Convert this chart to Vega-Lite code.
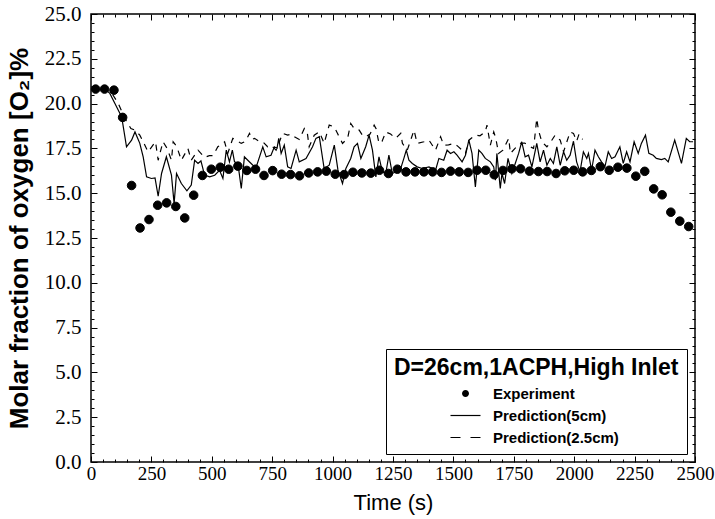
{
  "$schema": "https://vega.github.io/schema/vega-lite/v6.json",
  "width": 604,
  "height": 448,
  "autosize": {"type": "none"},
  "padding": {"left": 91, "top": 14, "right": 20, "bottom": 57},
  "background": "white",
  "config": {
    "view": {"stroke": "black", "strokeWidth": 1.5},
    "axis": {"domain": false, "grid": false, "labelFont": "Liberation Serif", "labelFontSize": 20, "labelColor": "black", "tickColor": "black", "tickWidth": 1, "titleColor": "black", "labelOverlap": false, "labelFlush": false}
  },
  "datasets": {
    "experiment": [
      {"time":19,"o2":20.81,"series":"Experiment"},{"time":56,"o2":20.81,"series":"Experiment"},{"time":95,"o2":20.75,"series":"Experiment"},{"time":131,"o2":19.23,"series":"Experiment"},{"time":168,"o2":15.43,"series":"Experiment"},{"time":203,"o2":13.06,"series":"Experiment"},{"time":240,"o2":13.53,"series":"Experiment"},{"time":276,"o2":14.33,"series":"Experiment"},{"time":313,"o2":14.46,"series":"Experiment"},{"time":351,"o2":14.26,"series":"Experiment"},{"time":388,"o2":13.62,"series":"Experiment"},{"time":425,"o2":14.89,"series":"Experiment"},{"time":461,"o2":15.99,"series":"Experiment"},{"time":498,"o2":16.34,"series":"Experiment"},{"time":535,"o2":16.45,"series":"Experiment"},{"time":570,"o2":16.34,"series":"Experiment"},{"time":608,"o2":16.51,"series":"Experiment"},{"time":645,"o2":16.27,"series":"Experiment"},{"time":681,"o2":16.34,"series":"Experiment"},{"time":716,"o2":15.99,"series":"Experiment"},{"time":752,"o2":16.26,"series":"Experiment"},{"time":789,"o2":16.06,"series":"Experiment"},{"time":826,"o2":16.04,"series":"Experiment"},{"time":863,"o2":15.97,"series":"Experiment"},{"time":901,"o2":16.13,"series":"Experiment"},{"time":938,"o2":16.19,"series":"Experiment"},{"time":974,"o2":16.23,"series":"Experiment"},{"time":1011,"o2":16.06,"series":"Experiment"},{"time":1048,"o2":16.04,"series":"Experiment"},{"time":1084,"o2":16.17,"series":"Experiment"},{"time":1121,"o2":16.13,"series":"Experiment"},{"time":1158,"o2":16.12,"series":"Experiment"},{"time":1194,"o2":16.28,"series":"Experiment"},{"time":1231,"o2":16.1,"series":"Experiment"},{"time":1268,"o2":16.34,"series":"Experiment"},{"time":1304,"o2":16.19,"series":"Experiment"},{"time":1341,"o2":16.19,"series":"Experiment"},{"time":1378,"o2":16.19,"series":"Experiment"},{"time":1414,"o2":16.19,"series":"Experiment"},{"time":1451,"o2":16.16,"series":"Experiment"},{"time":1488,"o2":16.23,"series":"Experiment"},{"time":1524,"o2":16.19,"series":"Experiment"},{"time":1561,"o2":16.16,"series":"Experiment"},{"time":1598,"o2":16.28,"series":"Experiment"},{"time":1634,"o2":16.28,"series":"Experiment"},{"time":1669,"o2":16.03,"series":"Experiment"},{"time":1705,"o2":16.27,"series":"Experiment"},{"time":1742,"o2":16.36,"series":"Experiment"},{"time":1778,"o2":16.36,"series":"Experiment"},{"time":1815,"o2":16.23,"series":"Experiment"},{"time":1852,"o2":16.21,"series":"Experiment"},{"time":1888,"o2":16.21,"series":"Experiment"},{"time":1925,"o2":16.1,"series":"Experiment"},{"time":1961,"o2":16.25,"series":"Experiment"},{"time":1998,"o2":16.28,"series":"Experiment"},{"time":2035,"o2":16.19,"series":"Experiment"},{"time":2071,"o2":16.27,"series":"Experiment"},{"time":2108,"o2":16.48,"series":"Experiment"},{"time":2145,"o2":16.28,"series":"Experiment"},{"time":2181,"o2":16.45,"series":"Experiment"},{"time":2218,"o2":16.4,"series":"Experiment"},{"time":2255,"o2":15.95,"series":"Experiment"},{"time":2292,"o2":16.22,"series":"Experiment"},{"time":2329,"o2":15.24,"series":"Experiment"},{"time":2364,"o2":14.91,"series":"Experiment"},{"time":2400,"o2":13.94,"series":"Experiment"},{"time":2437,"o2":13.44,"series":"Experiment"},{"time":2474,"o2":13.14,"series":"Experiment"}
    ],
    "pred5": [
      {"time":0,"o2":20.8},{"time":58,"o2":20.8},{"time":78,"o2":20.57},{"time":99,"o2":20.01},{"time":127,"o2":19.26},{"time":147,"o2":17.59},{"time":168,"o2":17.96},{"time":182,"o2":18.42},{"time":202,"o2":17.78},{"time":216,"o2":17.03},{"time":230,"o2":15.91},{"time":250,"o2":15.82},{"time":265,"o2":15.85},{"time":278,"o2":14.83},{"time":292,"o2":16.1},{"time":312,"o2":17.03},{"time":333,"o2":16.01},{"time":344,"o2":14.42},{"time":354,"o2":16.1},{"time":374,"o2":15.54},{"time":397,"o2":15.13},{"time":415,"o2":15.45},{"time":429,"o2":16.84},{"time":443,"o2":16.66},{"time":455,"o2":16.8},{"time":470,"o2":16.01},{"time":491,"o2":15.91},{"time":512,"o2":16.0},{"time":532,"o2":16.28},{"time":546,"o2":15.82},{"time":560,"o2":17.4},{"time":573,"o2":16.75},{"time":585,"o2":17.4},{"time":594,"o2":16.75},{"time":608,"o2":16.66},{"time":622,"o2":15.26},{"time":635,"o2":17.03},{"time":649,"o2":16.84},{"time":670,"o2":16.56},{"time":684,"o2":16.47},{"time":711,"o2":17.59},{"time":725,"o2":17.03},{"time":745,"o2":17.12},{"time":759,"o2":17.59},{"time":770,"o2":17.5},{"time":777,"o2":18.06},{"time":787,"o2":17.22},{"time":800,"o2":17.68},{"time":814,"o2":16.47},{"time":828,"o2":16.38},{"time":849,"o2":17.4},{"time":862,"o2":16.75},{"time":890,"o2":16.94},{"time":917,"o2":17.59},{"time":931,"o2":18.06},{"time":945,"o2":18.15},{"time":965,"o2":16.38},{"time":986,"o2":16.56},{"time":1007,"o2":17.68},{"time":1022,"o2":16.3},{"time":1041,"o2":15.54},{"time":1055,"o2":16.38},{"time":1075,"o2":16.94},{"time":1089,"o2":17.59},{"time":1103,"o2":17.78},{"time":1117,"o2":16.94},{"time":1137,"o2":17.59},{"time":1151,"o2":18.24},{"time":1165,"o2":17.4},{"time":1179,"o2":15.91},{"time":1192,"o2":17.03},{"time":1206,"o2":16.19},{"time":1220,"o2":16.1},{"time":1233,"o2":17.12},{"time":1247,"o2":16.1},{"time":1261,"o2":16.19},{"time":1282,"o2":16.38},{"time":1295,"o2":16.94},{"time":1305,"o2":17.4},{"time":1316,"o2":16.84},{"time":1330,"o2":16.66},{"time":1350,"o2":16.47},{"time":1371,"o2":16.38},{"time":1399,"o2":16.47},{"time":1426,"o2":16.28},{"time":1440,"o2":16.94},{"time":1460,"o2":16.84},{"time":1474,"o2":17.4},{"time":1488,"o2":17.22},{"time":1502,"o2":17.31},{"time":1515,"o2":17.12},{"time":1536,"o2":16.75},{"time":1550,"o2":17.12},{"time":1564,"o2":17.96},{"time":1577,"o2":17.22},{"time":1591,"o2":15.35},{"time":1605,"o2":17.4},{"time":1618,"o2":17.22},{"time":1632,"o2":16.94},{"time":1653,"o2":16.75},{"time":1667,"o2":16.47},{"time":1674,"o2":15.73},{"time":1680,"o2":17.22},{"time":1694,"o2":15.26},{"time":1701,"o2":16.1},{"time":1712,"o2":15.54},{"time":1726,"o2":16.94},{"time":1742,"o2":16.1},{"time":1756,"o2":16.66},{"time":1770,"o2":17.22},{"time":1783,"o2":17.87},{"time":1797,"o2":17.03},{"time":1811,"o2":17.12},{"time":1825,"o2":16.47},{"time":1845,"o2":17.78},{"time":1859,"o2":16.75},{"time":1873,"o2":17.4},{"time":1887,"o2":16.56},{"time":1901,"o2":16.94},{"time":1914,"o2":16.66},{"time":1928,"o2":17.59},{"time":1942,"o2":16.56},{"time":1956,"o2":17.31},{"time":1969,"o2":16.84},{"time":1983,"o2":17.12},{"time":1997,"o2":17.9},{"time":2010,"o2":16.75},{"time":2024,"o2":16.19},{"time":2038,"o2":17.31},{"time":2052,"o2":16.94},{"time":2059,"o2":17.22},{"time":2072,"o2":16.28},{"time":2086,"o2":17.4},{"time":2100,"o2":17.03},{"time":2113,"o2":16.75},{"time":2127,"o2":16.47},{"time":2141,"o2":17.31},{"time":2155,"o2":16.94},{"time":2169,"o2":17.03},{"time":2189,"o2":17.59},{"time":2203,"o2":16.66},{"time":2217,"o2":17.31},{"time":2231,"o2":16.75},{"time":2248,"o2":17.87},{"time":2265,"o2":17.22},{"time":2278,"o2":17.78},{"time":2295,"o2":18.24},{"time":2309,"o2":17.22},{"time":2327,"o2":17.12},{"time":2340,"o2":16.94},{"time":2361,"o2":16.88},{"time":2375,"o2":16.94},{"time":2389,"o2":16.75},{"time":2416,"o2":17.96},{"time":2444,"o2":16.66},{"time":2464,"o2":18.06},{"time":2478,"o2":17.87},{"time":2492,"o2":17.87}
    ],
    "pred25": [
      {"time":0,"o2":20.85},{"time":60,"o2":20.85},{"time":90,"o2":20.5},{"time":113,"o2":20.0},{"time":140,"o2":19.17},{"time":165,"o2":18.61},{"time":182,"o2":18.52},{"time":202,"o2":18.24},{"time":216,"o2":17.87},{"time":236,"o2":17.31},{"time":252,"o2":17.6},{"time":267,"o2":17.87},{"time":278,"o2":16.84},{"time":298,"o2":17.87},{"time":315,"o2":17.5},{"time":333,"o2":16.84},{"time":340,"o2":17.87},{"time":355,"o2":17.6},{"time":374,"o2":16.84},{"time":401,"o2":17.5},{"time":415,"o2":16.84},{"time":443,"o2":17.4},{"time":470,"o2":17.0},{"time":490,"o2":17.1},{"time":505,"o2":17.1},{"time":525,"o2":17.59},{"time":546,"o2":17.78},{"time":553,"o2":17.87},{"time":566,"o2":17.22},{"time":587,"o2":18.06},{"time":608,"o2":17.9},{"time":622,"o2":17.78},{"time":640,"o2":17.9},{"time":656,"o2":18.34},{"time":667,"o2":18.0},{"time":677,"o2":18.06},{"time":695,"o2":17.9},{"time":711,"o2":17.87},{"time":731,"o2":17.59},{"time":745,"o2":17.68},{"time":766,"o2":17.4},{"time":780,"o2":17.87},{"time":793,"o2":18.34},{"time":814,"o2":18.24},{"time":830,"o2":18.3},{"time":842,"o2":18.15},{"time":862,"o2":18.0},{"time":883,"o2":18.61},{"time":895,"o2":18.4},{"time":903,"o2":17.59},{"time":924,"o2":18.24},{"time":945,"o2":18.42},{"time":965,"o2":17.78},{"time":986,"o2":18.8},{"time":1007,"o2":18.7},{"time":1020,"o2":18.34},{"time":1041,"o2":17.78},{"time":1062,"o2":18.06},{"time":1075,"o2":18.89},{"time":1090,"o2":18.6},{"time":1110,"o2":18.52},{"time":1125,"o2":18.2},{"time":1137,"o2":18.15},{"time":1155,"o2":18.3},{"time":1172,"o2":18.8},{"time":1180,"o2":18.6},{"time":1192,"o2":17.78},{"time":1205,"o2":17.9},{"time":1220,"o2":18.42},{"time":1240,"o2":18.3},{"time":1261,"o2":18.06},{"time":1282,"o2":18.34},{"time":1289,"o2":17.78},{"time":1309,"o2":17.4},{"time":1337,"o2":18.52},{"time":1350,"o2":17.78},{"time":1378,"o2":17.87},{"time":1399,"o2":17.96},{"time":1426,"o2":17.4},{"time":1447,"o2":18.15},{"time":1460,"o2":17.68},{"time":1480,"o2":17.7},{"time":1502,"o2":17.78},{"time":1520,"o2":17.6},{"time":1550,"o2":17.22},{"time":1564,"o2":17.96},{"time":1591,"o2":18.24},{"time":1610,"o2":18.2},{"time":1632,"o2":18.42},{"time":1639,"o2":18.8},{"time":1653,"o2":17.68},{"time":1667,"o2":18.42},{"time":1675,"o2":18.1},{"time":1687,"o2":17.22},{"time":1705,"o2":17.4},{"time":1729,"o2":18.06},{"time":1736,"o2":17.22},{"time":1755,"o2":17.5},{"time":1777,"o2":17.78},{"time":1795,"o2":17.8},{"time":1818,"o2":17.59},{"time":1832,"o2":17.5},{"time":1845,"o2":19.17},{"time":1852,"o2":18.52},{"time":1866,"o2":17.87},{"time":1887,"o2":17.59},{"time":1900,"o2":17.8},{"time":1921,"o2":18.24},{"time":1942,"o2":17.96},{"time":1956,"o2":17.31},{"time":1983,"o2":18.42},{"time":1997,"o2":18.34},{"time":2010,"o2":17.9},{"time":2020,"o2":18.3},{"time":2035,"o2":18.0}
    ]
  },
  "layer": [
    {
      "data": {"name": "pred25"},
      "mark": {"type": "line", "color": "black", "strokeWidth": 1.2, "strokeDash": [6, 6]},
      "encoding": {
        "x": {"field": "time", "type": "quantitative", "scale": {"domain": [0, 2500], "nice": false}, "axis": null},
        "y": {"field": "o2", "type": "quantitative", "scale": {"domain": [0, 25], "nice": false, "zero": false}, "axis": null}
      }
    },
    {
      "data": {"name": "pred5"},
      "mark": {"type": "line", "color": "black", "strokeWidth": 1.2},
      "encoding": {
        "x": {"field": "time", "type": "quantitative", "scale": {"domain": [0, 2500], "nice": false},
          "axis": {"orient": "top", "labels": false, "title": null,
            "values": [0,50,100,150,200,250,300,350,400,450,500,550,600,650,700,750,800,850,900,950,1000,1050,1100,1150,1200,1250,1300,1350,1400,1450,1500,1550,1600,1650,1700,1750,1800,1850,1900,1950,2000,2050,2100,2150,2200,2250,2300,2350,2400,2450,2500],
            "tickSize": {"condition": {"test": "datum.value % 250 === 0", "value": -6}, "value": -3}}},
        "y": {"field": "o2", "type": "quantitative", "scale": {"domain": [0, 25], "nice": false, "zero": false},
          "axis": {"orient": "right", "labels": false, "title": null,
            "values": [0,0.5,1,1.5,2,2.5,3,3.5,4,4.5,5,5.5,6,6.5,7,7.5,8,8.5,9,9.5,10,10.5,11,11.5,12,12.5,13,13.5,14,14.5,15,15.5,16,16.5,17,17.5,18,18.5,19,19.5,20,20.5,21,21.5,22,22.5,23,23.5,24,24.5,25],
            "tickSize": {"condition": {"test": "datum.value % 2.5 === 0", "value": -6}, "value": -3}}}
      }
    },
    {
      "data": {"name": "experiment"},
      "mark": {"type": "point", "filled": true, "color": "black", "stroke": "black", "strokeWidth": 1, "opacity": 1, "size": 150},
      "encoding": {
        "x": {"field": "time", "type": "quantitative", "scale": {"domain": [0, 2500], "nice": false},
          "axis": {"orient": "bottom", "title": "Time (s)", "titleFont": "Liberation Sans", "titleFontSize": 22, "titleFontWeight": "normal", "titlePadding": 6,
            "format": "d", "labelPadding": 8, "labelFontSize": 19,
            "labelExpr": "datum.value % 250 === 0 ? datum.label : ''",
            "values": [0,50,100,150,200,250,300,350,400,450,500,550,600,650,700,750,800,850,900,950,1000,1050,1100,1150,1200,1250,1300,1350,1400,1450,1500,1550,1600,1650,1700,1750,1800,1850,1900,1950,2000,2050,2100,2150,2200,2250,2300,2350,2400,2450,2500],
            "tickSize": {"condition": {"test": "datum.value % 250 === 0", "value": -6}, "value": -3}}},
        "y": {"field": "o2", "type": "quantitative", "scale": {"domain": [0, 25], "nice": false, "zero": false},
          "axis": {"orient": "left", "title": "Molar fraction of oxygen [O₂]%", "titleFont": "Liberation Sans", "titleFontSize": 26, "titleFontWeight": "bold", "titlePadding": 12,
            "format": ".1f", "labelPadding": 16, "labelFontSize": 21,
            "labelExpr": "datum.value % 2.5 === 0 ? datum.label : ''",
            "values": [0,0.5,1,1.5,2,2.5,3,3.5,4,4.5,5,5.5,6,6.5,7,7.5,8,8.5,9,9.5,10,10.5,11,11.5,12,12.5,13,13.5,14,14.5,15,15.5,16,16.5,17,17.5,18,18.5,19,19.5,20,20.5,21,21.5,22,22.5,23,23.5,24,24.5,25],
            "tickSize": {"condition": {"test": "datum.value % 2.5 === 0", "value": -6}, "value": -3}}},
        "shape": {"field": "series", "type": "nominal",
          "scale": {"domain": ["Experiment", "Prediction(5cm)", "Prediction(2.5cm)"],
            "range": ["M-0.7,0A0.7,0.7,0,1,1,0.7,0A0.7,0.7,0,1,1,-0.7,0Z", "M-3,-0.12L3,-0.12L3,0.12L-3,0.12Z", "M-3,-0.12L-1,-0.12L-1,0.12L-3,0.12ZM1,-0.12L3,-0.12L3,0.12L1,0.12Z"]},
          "legend": {"title": "D=26cm,1ACPH,High Inlet", "orient": "bottom-right", "offset": 8,
            "titleFont": "Liberation Sans", "titleFontSize": 23, "titleFontWeight": "bold", "titleColor": "black", "titlePadding": 6, "titleLimit": 600,
            "labelFont": "Liberation Sans", "labelFontSize": 15, "labelFontWeight": "bold", "labelColor": "black", "labelLimit": 300,
            "symbolSize": 100, "symbolStrokeColor": "black", "symbolStrokeWidth": 0.5, "symbolFillColor": "black",
            "symbolOffset": 64, "labelOffset": 20, "rowPadding": 6,
            "strokeColor": "black", "fillColor": "white", "padding": 8, "cornerRadius": 0,
            "encode": {"symbols": {"update": {"stroke": {"value": "black"}, "strokeWidth": {"value": 0.5}, "fill": {"value": "black"}, "opacity": {"value": 1}}}}}}
      }
    }
  ],
  "resolve": {"axis": {"x": "independent", "y": "independent"}}
}
